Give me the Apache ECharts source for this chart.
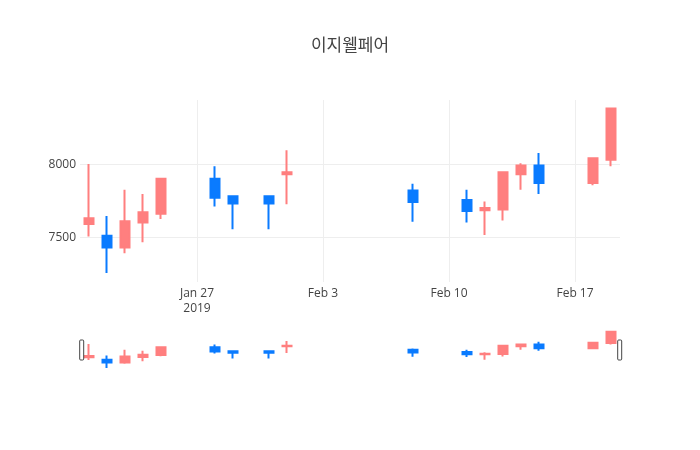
<!DOCTYPE html>
<html>
<head>
<meta charset="utf-8">
<script src="https://cdn.jsdelivr.net/npm/echarts@6/dist/echarts.min.js"></script>
<style>
html,body{margin:0;padding:0;background:#fff;}
#chart{width:700px;height:450px;}
</style>
</head>
<body>
<div id="chart"></div>
<script>
const dates  = ['2019-01-21','2019-01-22','2019-01-23','2019-01-24','2019-01-25','2019-01-28','2019-01-29','2019-01-31','2019-02-01','2019-02-08','2019-02-11','2019-02-12','2019-02-13','2019-02-14','2019-02-15','2019-02-18','2019-02-19'];
const opens  = [7590, 7510, 7430, 7600, 7660, 7900, 7780, 7780, 7930, 7820, 7755, 7685, 7690, 7930, 7990, 7870, 8030];
const closes = [7630, 7430, 7610, 7670, 7900, 7770, 7730, 7730, 7945, 7740, 7680, 7700, 7945, 7990, 7870, 8040, 8380];
const lows   = [7505, 7255, 7390, 7465, 7625, 7710, 7555, 7555, 7725, 7605, 7600, 7515, 7615, 7825, 7795, 7855, 7985];
const highs  = [8000, 7645, 7825, 7795, 7900, 7985, 7780, 7780, 8095, 7865, 7825, 7745, 7945, 8005, 8075, 8040, 8380];

const xTickDates  = ['2019-01-27','2019-02-03','2019-02-10','2019-02-17'];
const xTickLabels = ['Jan 27\n2019','Feb 3','Feb 10','Feb 17'];
const yTickValues = [7500, 8000];
const yTickLabels = ['7500', '8000'];

const titleText = '이지웰페어';
const upColor = '#FF7F7F';
const downColor = '#0A7BFF';

function toTime(s, hour) {
  const p = s.split('-').map(Number);
  return new Date(p[0], p[1] - 1, p[2], hour || 0).getTime();
}
const xTickTimes = xTickDates.map(d => toTime(d));
const candleData = dates.map((d, i) => [toTime(d), opens[i], closes[i], lows[i], highs[i]]);

const xMin = toTime('2019-01-20', 12);
const xMax = toTime('2019-02-19', 12);
const yMin = 7194, yMax = 8438;

function nearestLabel(values, labels, v) {
  let best = 0, bd = Infinity;
  values.forEach((t, i) => { const dd = Math.abs(t - v); if (dd < bd) { bd = dd; best = i; } });
  return labels[best];
}

const chart = echarts.init(document.getElementById('chart'), null, {renderer: 'canvas'});
const candleStyle = {
  color: upColor, color0: downColor,
  borderColor: upColor, borderColor0: downColor,
  borderWidth: 2
};
chart.setOption({
  animation: false,
  backgroundColor: '#fff',
  title: {
    text: titleText, left: 'center', top: 31,
    textStyle: {fontSize: 17, color: '#444', fontWeight: 'normal', fontFamily: '"Noto Sans CJK KR", "Open Sans", sans-serif'}
  },
  grid: [
    {left: 80, right: 80, top: 100, height: 182, containLabel: false},
    {left: 80, right: 80, top: 330, height: 40, containLabel: false}
  ],
  xAxis: [
    {
      type: 'value', gridIndex: 0, min: xMin, max: xMax, scale: true,
      axisLine: {show: false},
      axisTick: {show: false, customValues: xTickTimes},
      axisLabel: {
        customValues: xTickTimes, color: '#444', fontSize: 12, fontFamily: '"Open Sans", sans-serif',
        margin: 4, lineHeight: 15,
        formatter: v => nearestLabel(xTickTimes, xTickLabels, v)
      },
      splitLine: {show: true, lineStyle: {color: '#eee', width: 1}}
    },
    {
      type: 'value', gridIndex: 1, min: xMin, max: xMax, scale: true,
      axisLine: {show: false}, axisTick: {show: false}, axisLabel: {show: false}, splitLine: {show: false}
    }
  ],
  yAxis: [
    {
      type: 'value', gridIndex: 0, min: yMin, max: yMax, scale: true,
      axisLine: {show: false},
      axisTick: {show: false, customValues: yTickValues},
      axisLabel: {
        customValues: yTickValues, color: '#444', fontSize: 12, fontFamily: '"Open Sans", sans-serif', margin: 4,
        formatter: v => nearestLabel(yTickValues, yTickLabels, v)
      },
      splitLine: {show: true, lineStyle: {color: '#eee', width: 1}}
    },
    {
      type: 'value', gridIndex: 1, min: yMin, max: yMax, scale: true,
      axisLine: {show: false}, axisTick: {show: false}, axisLabel: {show: false}, splitLine: {show: false}
    }
  ],
  dataZoom: [{
    type: 'slider', xAxisIndex: 0, filterMode: 'none', start: 0, end: 100,
    left: 80, right: 80, top: 340, height: 20,
    backgroundColor: 'rgba(0,0,0,0)', fillerColor: 'rgba(0,0,0,0)', borderColor: 'rgba(0,0,0,0)',
    showDataShadow: false, showDetail: false, brushSelect: false,
    moveHandleSize: 0, moveHandleStyle: {opacity: 0},
    handleIcon: 'path://M1,0h2a1,1 0 0 1 1,1v18a1,1 0 0 1 -1,1h-2a1,1 0 0 1 -1,-1v-18a1,1 0 0 1 1,-1z',
    handleSize: '100%',
    handleStyle: {color: '#fff', borderColor: '#444', borderWidth: 1},
    emphasis: {handleStyle: {color: '#fff', borderColor: '#444', borderWidth: 1}, moveHandleStyle: {opacity: 0}}
  }],
  series: [
    {type: 'candlestick', xAxisIndex: 0, yAxisIndex: 0, data: candleData, barWidth: 9, itemStyle: candleStyle},
    {type: 'candlestick', xAxisIndex: 1, yAxisIndex: 1, data: candleData, barWidth: 9, itemStyle: candleStyle}
  ]
});
</script>
</body>
</html>
